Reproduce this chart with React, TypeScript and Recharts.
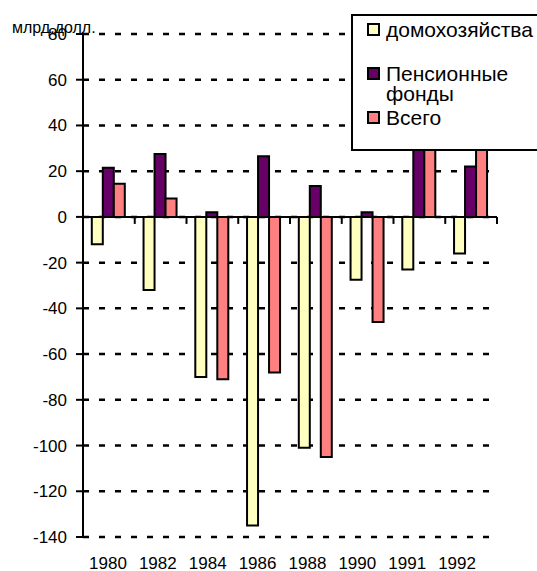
import { Bar, BarChart, CartesianGrid, Legend, ReferenceLine, XAxis, YAxis } from "recharts";

const FONT = "Arial, 'Liberation Sans', sans-serif";

const years = ["1980", "1982", "1984", "1986", "1988", "1990", "1991", "1992"];
const households = [-12, -32, -70, -135, -101, -27.5, -23, -16];
const pensionFunds = [21.5, 27.5, 2, 26.5, 13.5, 2, 38, 22];
const total = [14.5, 8, -71, -68, -105, -46, 32, 35];
const yTicks = [-140, -120, -100, -80, -60, -40, -20, 0, 20, 40, 60, 80];
const seriesNames = ["домохозяйства", "Пенсионные фонды", "Всего"];

const data = years.map((year, i) => ({
  year,
  households: households[i],
  pension: pensionFunds[i],
  total: total[i],
}));

// zero line with small marks at the category boundaries
function ZeroAxis(props: any) {
  const { x1, x2, y1 } = props;
  const step = (x2 - x1) / years.length;
  return (
    <g>
      <line x1={x1} x2={x2} y1={y1} y2={y1} stroke="#000" strokeWidth={2} />
      {years.map((_, i) => {
        const x = x1 + step * (i + 1);
        return <line key={i} x1={x} x2={x} y1={y1} y2={y1 + 7} stroke="#000" strokeWidth={2} />;
      })}
    </g>
  );
}

function LegendBox({ payload }: any) {
  const items = [...(payload || [])].sort(
    (a: any, b: any) => seriesNames.indexOf(a.value) - seriesNames.indexOf(b.value)
  );
  return (
    <div
      style={{
        position: "relative",
        width: 200,
        height: 137,
        boxSizing: "border-box",
        border: "2px solid #000",
        background: "#fff",
        fontFamily: FONT,
      }}
    >
      {items.map((entry: any, i: number) => (
        <div key={entry.value} style={{ position: "absolute", left: 14, top: 4 + i * 44, display: "flex" }}>
          <span
            style={{
              width: 13,
              height: 13,
              marginTop: 3,
              boxSizing: "border-box",
              border: "2px solid #000",
              background: entry.color,
              flex: "none",
            }}
          />
          <span style={{ marginLeft: 6, width: 160, fontSize: 21, lineHeight: "20px", color: "#000" }}>
            {entry.value}
          </span>
        </div>
      ))}
    </div>
  );
}

export default function App() {
  return (
    <div
      style={{
        position: "absolute",
        left: 0,
        top: 0,
        width: 537,
        height: 571,
        overflow: "hidden",
        background: "#fff",
      }}
    >
      <BarChart
        width={537}
        height={571}
        data={data}
        margin={{ top: 34, right: 40, bottom: 0, left: 0 }}
        barCategoryGap="17%"
        barGap={0}
      >
        <CartesianGrid
          xAxisId="bars"
          vertical={false}
          stroke="#000"
          strokeWidth={2.5}
          strokeDasharray="6 10"
        />
        <XAxis
          xAxisId="labels"
          dataKey="year"
          height={34}
          padding={{ left: 0, right: 15 }}
          axisLine={false}
          tickLine={false}
          tickSize={0}
          tickMargin={20}
          interval={0}
          tick={{ fill: "#000", fontSize: 17, fontFamily: FONT }}
        />
        <XAxis xAxisId="bars" dataKey="year" height={0} hide />
        <YAxis
          width={83}
          domain={[-140, 80]}
          ticks={yTicks}
          interval={0}
          tickSize={7}
          tickMargin={9}
          axisLine={{ stroke: "#000", strokeWidth: 2 }}
          tickLine={{ stroke: "#000", strokeWidth: 2 }}
          tick={{ fill: "#000", fontSize: 17, fontFamily: FONT }}
          label={{
            content: ({ viewBox }: any) => (
              <text x={12} y={viewBox.y - 1} fontSize={16} fontFamily={FONT} fill="#000">
                млрд.долл.
              </text>
            ),
          }}
        />
        <Legend
          layout="vertical"
          align="center"
          verticalAlign="middle"
          content={<LegendBox />}
          wrapperStyle={{ left: 351, top: 14 }}
        />
        <Bar
          xAxisId="bars"
          dataKey="households"
          name={seriesNames[0]}
          fill="#FFFFC0"
          stroke="#000"
          strokeWidth={2}
          isAnimationActive={false}
        />
        <Bar
          xAxisId="bars"
          dataKey="pension"
          name={seriesNames[1]}
          fill="#660066"
          stroke="#000"
          strokeWidth={2}
          isAnimationActive={false}
        />
        <Bar
          xAxisId="bars"
          dataKey="total"
          name={seriesNames[2]}
          fill="#FF8080"
          stroke="#000"
          strokeWidth={2}
          isAnimationActive={false}
        />
        <ReferenceLine xAxisId="bars" y={0} shape={ZeroAxis} />
      </BarChart>
    </div>
  );
}
